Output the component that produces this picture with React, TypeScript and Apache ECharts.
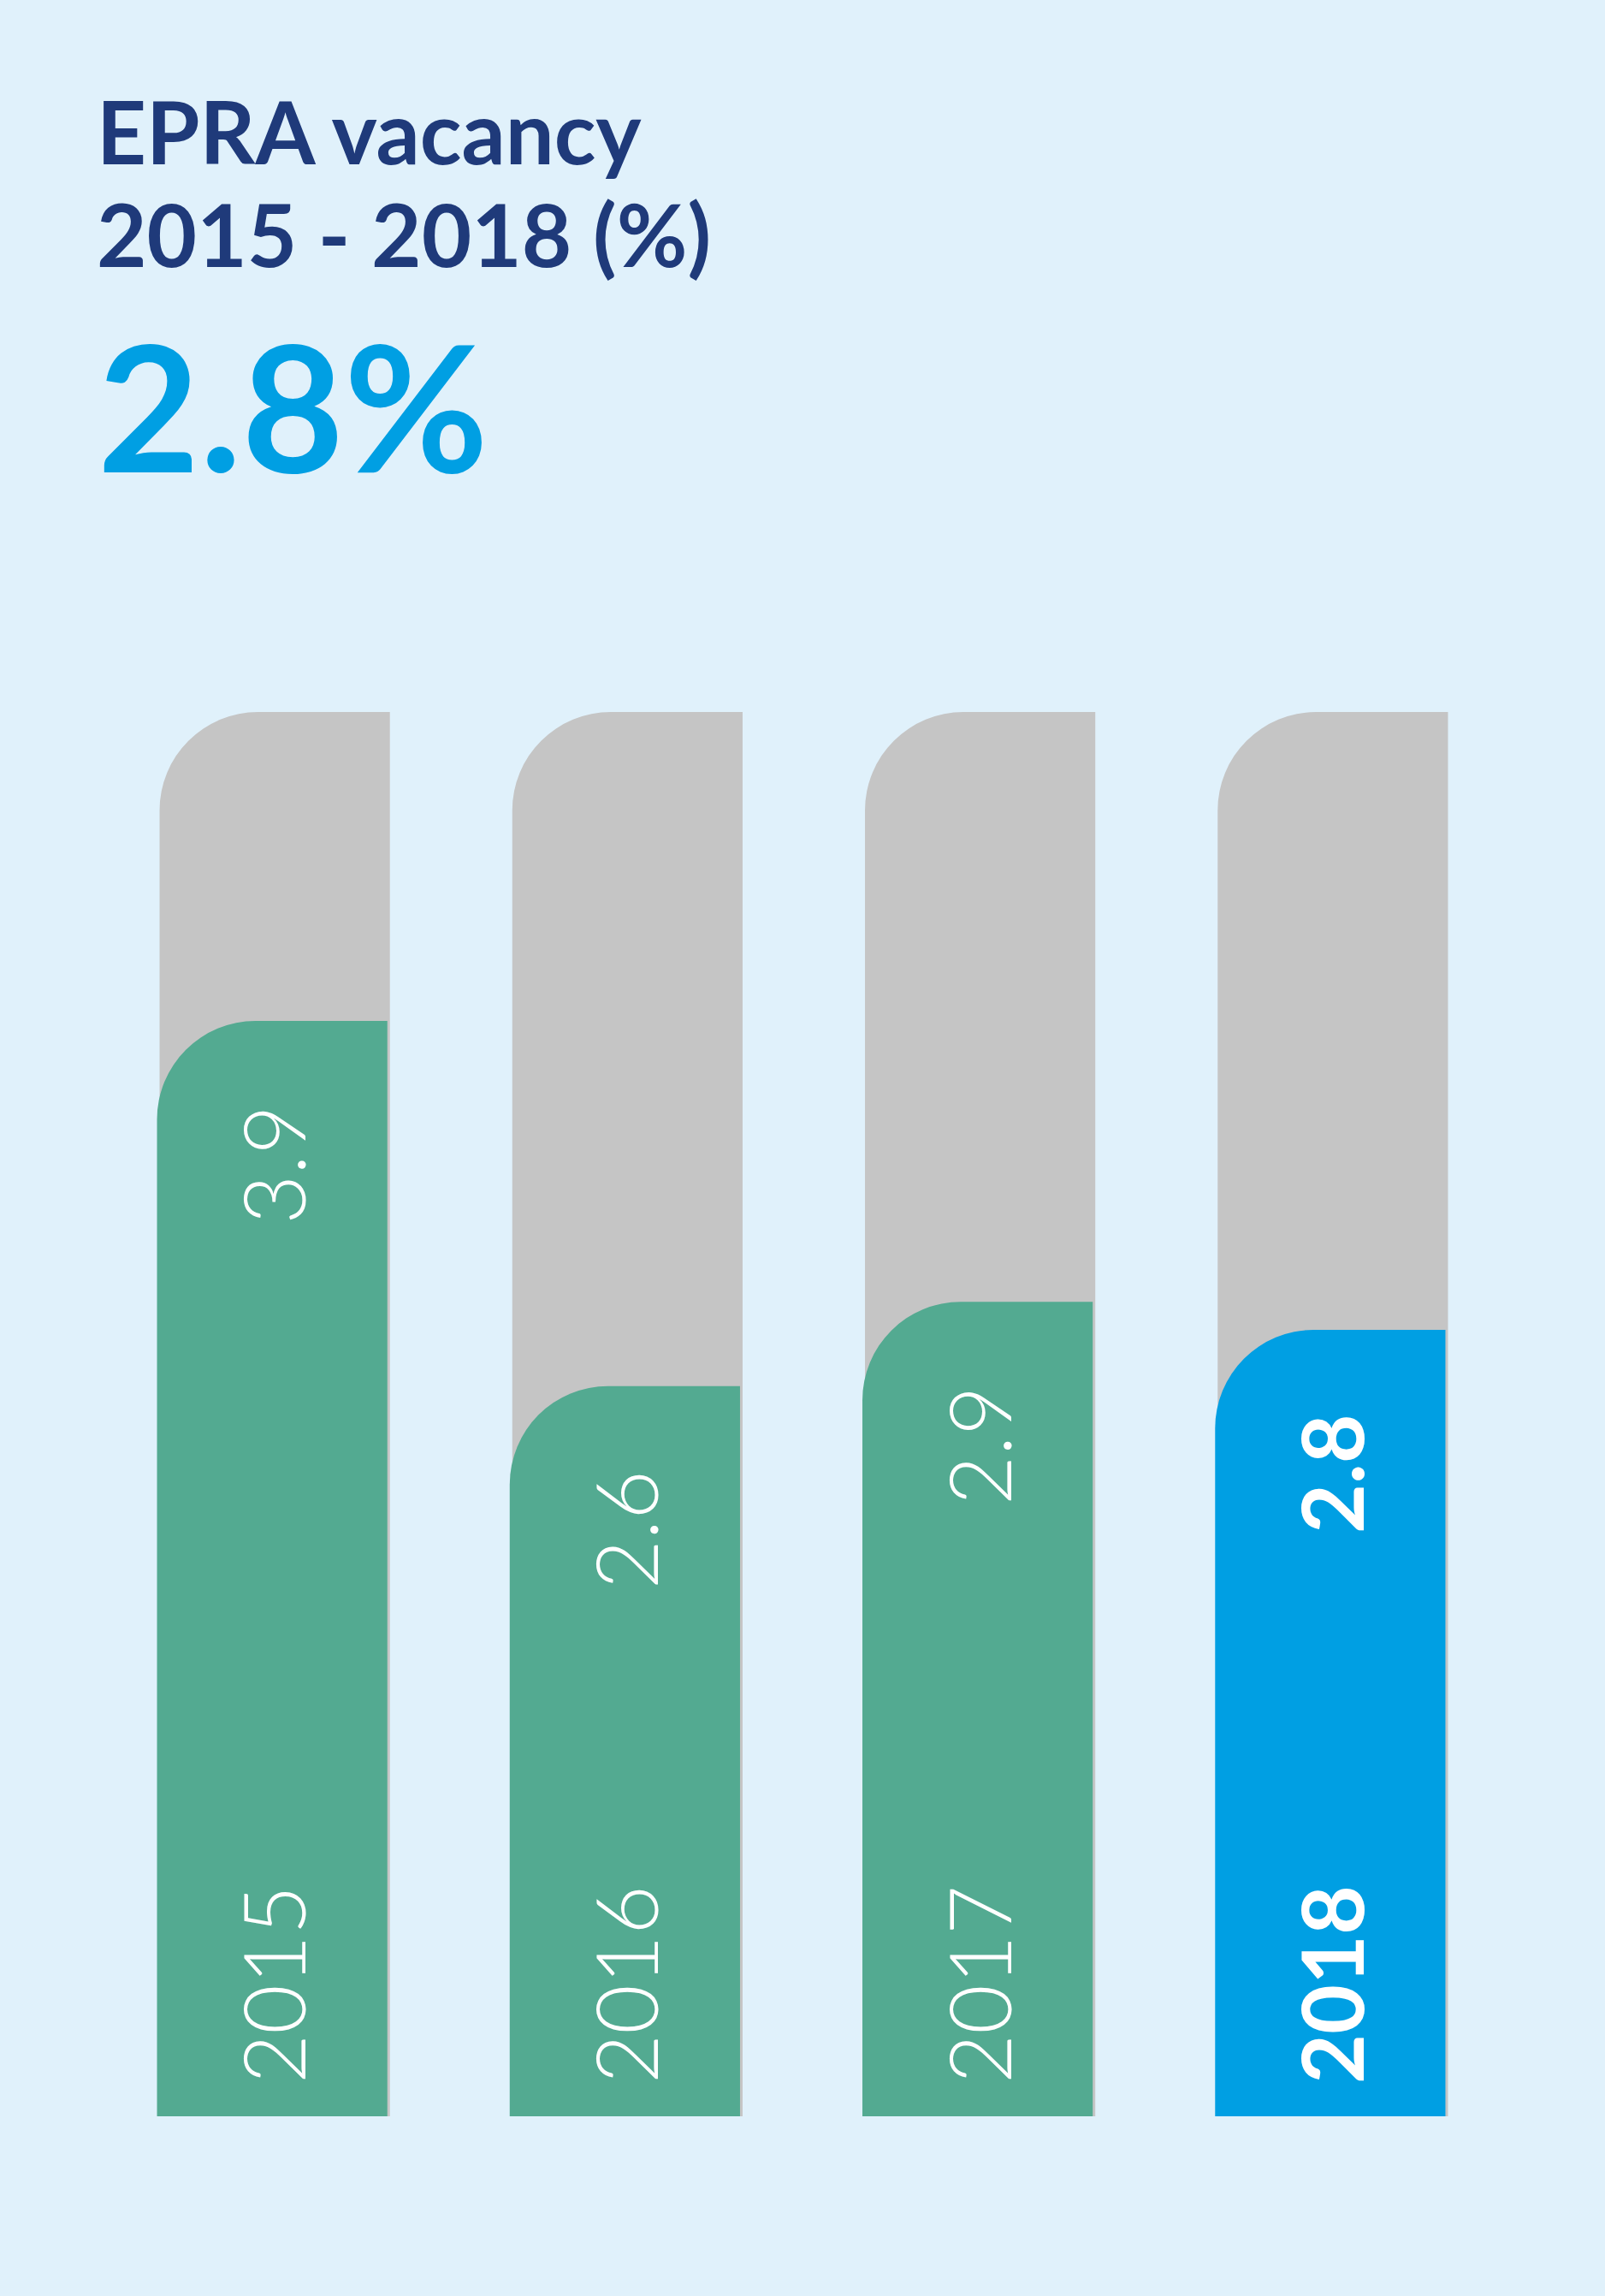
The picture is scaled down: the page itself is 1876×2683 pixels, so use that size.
import { useEffect, useRef } from 'react'
import * as echarts from 'echarts'

// EPRA vacancy per year (%)
const years = ['2015', '2016', '2017', '2018']
const vacancy = [3.9, 2.6, 2.9, 2.8]
const scaleMax = 5
const highlightYear = '2018'
const headline = '2.8%'
const titleLines = ['EPRA vacancy', '2015 - 2018 (%)']

const BG = '#E0F1FB'
const NAVY = '#1F3A7A'
const BLUE = '#009FE3'
const GREEN = '#53AA91'
const GREY = '#C5C5C5'

export default function App(): JSX.Element {
  const chartRef = useRef<HTMLDivElement>(null)

  useEffect(() => {
    document.body.style.margin = '0'
    if (!chartRef.current) return
    const chart = echarts.init(chartRef.current, null, { renderer: 'svg' })

    const renderItem = (params: any, api: any) => {
      const i = api.value(0)
      const v = api.value(1)
      const [cx, y0] = api.coord([i, 0])
      const yv = api.coord([i, v])[1]
      const yMax = api.coord([i, scaleMax])[1]
      const bw = api.size([1, 0])[0] * 0.653
      const hl = years[i] === highlightYear
      const labelStyle = {
        fill: '#ffffff',
        fontSize: 100,
        fontFamily: 'Lato',
        fontWeight: hl ? 'bold' : 300,
        align: 'center',
        verticalAlign: 'middle'
      }
      return {
        type: 'group',
        children: [
          {
            type: 'rect',
            shape: { x: cx - bw / 2 + 1.5, y: yMax, width: bw, height: y0 - yMax, r: [115, 0, 0, 0] },
            style: { fill: GREY }
          },
          {
            type: 'rect',
            shape: { x: cx - bw / 2 - 1.5, y: yv, width: bw, height: y0 - yv, r: [115, 0, 0, 0] },
            style: { fill: hl ? BLUE : GREEN }
          },
          {
            type: 'text',
            x: cx - 1.5,
            y: yv + 168,
            rotation: Math.PI / 2,
            style: { ...labelStyle, text: v.toFixed(1) }
          },
          {
            type: 'text',
            x: cx - 1.5,
            y: y0 - 154,
            rotation: Math.PI / 2,
            style: { ...labelStyle, text: years[i] }
          }
        ]
      }
    }

    chart.setOption({
      animation: false,
      backgroundColor: BG,
      title: [
        {
          text: titleLines.join('\n'),
          left: 113,
          top: 93,
          padding: 0,
          textStyle: { color: NAVY, fontFamily: 'Lato', fontWeight: 'bold', fontSize: 101, lineHeight: 120 }
        },
        {
          text: headline,
          left: 114,
          top: 369,
          padding: 0,
          textStyle: { color: BLUE, fontFamily: 'Lato', fontWeight: 'bold', fontSize: 206, lineHeight: 206 }
        }
      ],
      grid: { left: 113.5, right: 113.5, top: 832, bottom: 210 },
      xAxis: { type: 'category', data: years, show: false },
      yAxis: { type: 'value', min: 0, max: scaleMax, show: false },
      series: [
        {
          type: 'custom',
          data: vacancy.map((v, i) => [i, v]),
          renderItem
        }
      ]
    })

    return () => {
      chart.dispose()
    }
  }, [])

  return <div ref={chartRef} style={{ width: 1876, height: 2683 }} />
}
